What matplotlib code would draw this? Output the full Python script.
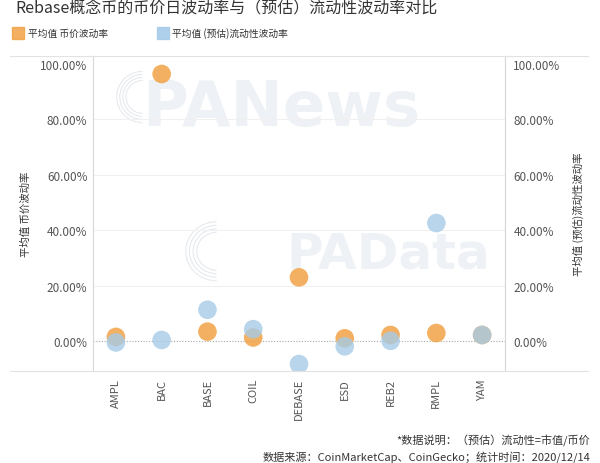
import matplotlib
matplotlib.use("Agg")
import matplotlib.pyplot as plt
from matplotlib.lines import Line2D
from matplotlib.patches import Rectangle, Arc

plt.rcParams['font.family'] = ['Noto Sans CJK SC', 'DejaVu Sans']

coins = ["AMPL", "BAC", "BASE", "COIL", "DEBASE", "ESD", "REB2", "RMPL", "YAM"]
price_vol = [1.5, 96.4, 3.4, 1.3, 23.0, 1.0, 2.2, 2.9, 2.2]
liquidity_vol = [-0.5, 0.4, 11.3, 4.3, -8.3, -1.9, 0.1, 42.6, 2.2]
yticks = [0, 20, 40, 60, 80, 100]

title = "Rebase概念币的币价日波动率与（预估）流动性波动率对比"
label_price = "平均值 币价波动率"
label_liq = "平均值 (预估)流动性波动率"
note = "*数据说明：（预估）流动性=市值/币价"
source = "数据来源：CoinMarketCap、CoinGecko；统计时间：2020/12/14"

ORANGE = "#F2A346"
BLUE = "#A6CBE8"
TICK = "#555555"

fig = plt.figure(figsize=(6.0, 4.64), dpi=100)
ax = fig.add_axes([0.155, 0.1983, 0.6867, 0.6789])
ax.set_xlim(-0.5, len(coins) - 0.5)
ax.set_ylim(-10.8, 102.9)

# faint watermarks
ax.text(0.12, 0.93, "PANews", transform=ax.transAxes, fontsize=45, fontweight="bold",
        color="#EEF1F5", family="DejaVu Sans", va="top", ha="left", zorder=0)
ax.text(0.47, 0.45, "PAData", transform=ax.transAxes, fontsize=36, fontweight="bold",
        color="#EEF1F5", family="DejaVu Sans", va="top", ha="left", zorder=0)
for r in [0.08, 0.095, 0.11, 0.125]:
    ax.add_patch(Arc((0.12, 0.87), r, r * 1.3, theta1=90, theta2=270,
                     transform=ax.transAxes, color="#E6E9EE", lw=0.8, zorder=0))
    ax.add_patch(Arc((0.30, 0.38), r * 1.2, r * 1.5, theta1=90, theta2=270,
                     transform=ax.transAxes, color="#E6E9EE", lw=0.8, zorder=0))

for t in yticks[1:-1]:
    ax.axhline(t, color="#F0F0F0", lw=0.8, zorder=1)
ax.axhline(0, color="#AAAAAA", lw=0.8, ls=(0, (1, 1.5)), zorder=1)

x = list(range(len(coins)))
ax.scatter(x, price_vol, s=180, color=ORANGE, alpha=0.85, edgecolors="none", zorder=3)
ax.scatter(x, liquidity_vol, s=180, color=BLUE, alpha=0.8, edgecolors="none", zorder=4)

ax.set_xticks(x)
ax.set_xticklabels(coins, rotation=90, fontsize=8, color=TICK)
ax.set_yticks(yticks)
ax.set_yticklabels([f"{v:.2f}%" for v in yticks], fontsize=8.5, color=TICK)
ax.tick_params(axis="both", length=0, pad=4)
ax.tick_params(axis="x", pad=5)
for side in ["top", "bottom"]:
    ax.spines[side].set_visible(False)
for side in ["left", "right"]:
    ax.spines[side].set_color("#D8D8D8")
    ax.spines[side].set_linewidth(0.8)
ax.set_ylabel(label_price, fontsize=7.5, color="#333333")
ax.yaxis.set_label_coords(-0.15, 0.5)

ax2 = ax.twinx()
ax2.set_ylim(ax.get_ylim())
ax2.set_yticks(yticks)
ax2.set_yticklabels([f"{v:.2f}%" for v in yticks], fontsize=8.5, color=TICK)
ax2.tick_params(axis="y", length=0, pad=6)
for side in ["top", "bottom", "left"]:
    ax2.spines[side].set_visible(False)
ax2.spines["right"].set_color("#D8D8D8")
ax2.set_ylabel(label_liq, fontsize=7.5, color="#333333")
ax2.yaxis.set_label_coords(1.165, 0.5)

# horizontal rules framing the plot
for yy in [1 - 57 / 464, 1 - 372 / 464]:
    fig.add_artist(Line2D([0.017, 0.98], [yy, yy], transform=fig.transFigure,
                          color="#E2E2E2", lw=0.8))

fig.text(0.025, 0.999, title, fontsize=11.5, color="#333333", ha="left", va="top")

fig.add_artist(Rectangle((12 / 600, 1 - 40 / 464), 12 / 600, 12 / 464,
                         transform=fig.transFigure, color=ORANGE, alpha=0.85))
fig.add_artist(Rectangle((157 / 600, 1 - 40 / 464), 12 / 600, 12 / 464,
                         transform=fig.transFigure, color=BLUE, alpha=0.9))
fig.text(28 / 600, 1 - 34 / 464, label_price, fontsize=7, color="#333333", va="center")
fig.text(172 / 600, 1 - 34 / 464, label_liq, fontsize=7, color="#333333", va="center")

fig.text(590 / 600, 1 - 441 / 464, note, fontsize=8, color="#333333", ha="right", va="center")
fig.text(590 / 600, 1 - 457 / 464, source, fontsize=8, color="#333333", ha="right", va="center")

fig.savefig("out.png", dpi=100, facecolor="white")
